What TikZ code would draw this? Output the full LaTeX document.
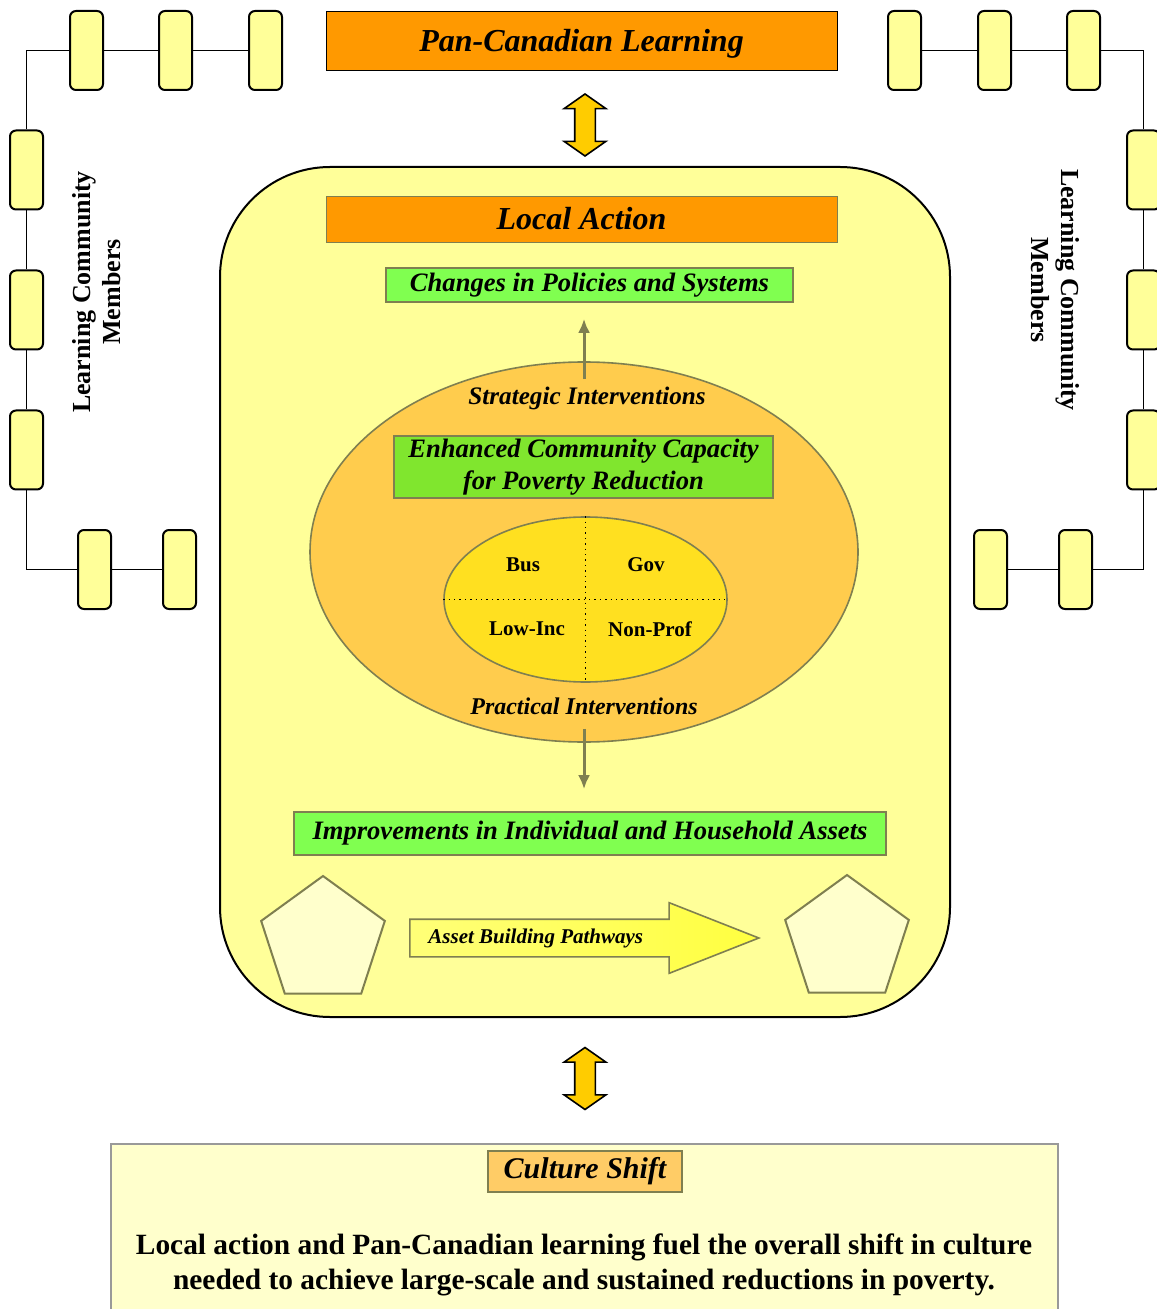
\documentclass[tikz,border=0pt]{standalone}
\usepackage{fontspec}
\setmainfont{Liberation Serif}
\usetikzlibrary{shapes.geometric,shapes.arrows,arrows.meta}
\definecolor{memberfill}{HTML}{FFFF99}
\definecolor{panorange}{HTML}{FF9900}
\definecolor{policygreen}{HTML}{80FF50}
\definecolor{capgreen}{HTML}{80E62E}
\definecolor{outerfill}{HTML}{FFCC4D}
\definecolor{innerfill}{HTML}{FFE020}
\definecolor{olivedraw}{HTML}{7F7F50}
\definecolor{arrowgold}{HTML}{FFCC00}
\definecolor{palefill}{HTML}{FFFFCC}
\definecolor{pathyellow}{HTML}{FFFF40}
\definecolor{pathpale}{HTML}{FFFF78}
\definecolor{shiftfill}{HTML}{FFCC66}
\begin{document}
\begin{tikzpicture}[x=0.5pt,y=-0.5pt,
  member/.style={draw,line width=1pt,fill=memberfill,rounded corners=3pt,minimum width=16.5pt,minimum height=39.5pt,inner sep=0pt},
  chain/.style={line width=0.8pt},
  title/.style={draw,fill=panorange,minimum width=255.5pt,inner sep=0pt,font=\fontsize{16}{19}\selectfont\bfseries\itshape},
  goal/.style={draw=olivedraw,line width=0.8pt,fill=policygreen,inner sep=0pt,font=\fontsize{13.3}{16}\selectfont\bfseries\itshape},
  tag/.style={font=\fontsize{12}{14}\selectfont\bfseries\itshape},
  sector/.style={font=\fontsize{10.5}{12}\selectfont\bfseries},
  lcm/.style={align=center,font=\fontsize{13}{15}\selectfont\bfseries},
  link/.style={draw=black,line width=0.8pt,fill=arrowgold,double arrow,double arrow tip angle=110,double arrow head extend=5.25pt,minimum width=20pt,minimum height=31pt,inner xsep=0pt,inner ysep=4.75pt,rotate=90},
  flow/.style={line width=1.5pt,draw=olivedraw,-{Latex[length=7pt,width=6pt]}},
  asset/.style={regular polygon,regular polygon sides=5,minimum size=65pt,draw=olivedraw,line width=1pt,fill=palefill,inner sep=0pt}
]
\useasboundingbox (0,0) rectangle (1156,1309);

% learning community members, left
\node [member] (tl1) at (86.5,50.5) {};
\node [member] (tl2) at (175.5,50.5) {};
\node [member] (tl3) at (265.5,50.5) {};
\node [member] (ml1) at (26.5,170) {};
\node [member] (ml2) at (26.5,310) {};
\node [member] (ml3) at (26.5,450) {};
\node [member] (bl1) at (94.5,569.5) {};
\node [member] (bl2) at (179.5,569.5) {};
\draw [chain] (tl3) -- (tl2) -- (tl1);
\draw [chain] (tl1.west) -| (ml1.north);
\draw [chain] (ml1) -- (ml2) -- (ml3);
\draw [chain] (ml3.south) |- (bl1.west);
\draw [chain] (bl1) -- (bl2);
\node [lcm,rotate=90] (lcmleft) at (97,292) {Learning Community\\Members};

% learning community members, right
\node [member] (tr1) at (904.5,50.5) {};
\node [member] (tr2) at (994.5,50.5) {};
\node [member] (tr3) at (1083.5,50.5) {};
\node [member] (mr1) at (1143.5,170) {};
\node [member] (mr2) at (1143.5,310) {};
\node [member] (mr3) at (1143.5,450) {};
\node [member] (br1) at (990.5,569.5) {};
\node [member] (br2) at (1075.5,569.5) {};
\draw [chain] (tr1) -- (tr2) -- (tr3);
\draw [chain] (tr3.east) -| (mr1.north);
\draw [chain] (mr1) -- (mr2) -- (mr3);
\draw [chain] (mr3.south) |- (br2.east);
\draw [chain] (br2) -- (br1);
\node [lcm,rotate=-90] (lcmright) at (1055,290) {Learning Community\\Members};

\node [title,minimum height=29.5pt,text height=15pt,text depth=3.5pt] (pan) at (581.5,40.5) {Pan-Canadian Learning};
\node [link] (panlink) at (585,125) {};

% local action
\node [draw,line width=1pt,fill=memberfill,rounded corners=55pt,minimum width=365pt,minimum height=425pt] (local) at (585,592) {};
\node [title,draw=olivedraw,minimum height=23pt] (action) at (581.5,219) {Local Action};
\node [goal,minimum width=203.5pt,minimum height=17pt] (policy) at (589.5,285) {Changes in Policies and Systems};
\node [ellipse,draw=olivedraw,line width=0.8pt,fill=outerfill,minimum width=274pt,minimum height=190pt] (outer) at (584,552) {};
\node [tag,font=\fontsize{12.6}{14}\selectfont\bfseries\itshape] (strategic) at (587,398) {Strategic Interventions};
\node [goal,fill=capgreen,minimum width=189.5pt,minimum height=31pt,align=center,font=\fontsize{13.3}{16}\selectfont\bfseries\itshape] (capacity) at (583.5,467) {Enhanced Community Capacity\\for Poverty Reduction};
\node [ellipse,draw=olivedraw,line width=0.8pt,fill=innerfill,minimum width=141.5pt,minimum height=82.5pt] (inner) at (585.5,599.5) {};
\draw [dotted,line width=0.7pt] (inner.north) -- (inner.south);
\draw [dotted,line width=0.7pt] (inner.west) -- (inner.east);
\node [sector] (bus) at (523,565) {Bus};
\node [sector] (gov) at (646,565) {Gov};
\node [sector] (lowinc) at (527,629) {Low-Inc};
\node [sector] (nonprof) at (650,629) {Non-Prof};
\node [tag] (practical) at (584,706) {Practical Interventions};
\draw [flow] ([yshift=-9pt]outer.north) -- ([yshift=-8pt]outer.north |- policy.south);
\node [goal,minimum width=296pt,minimum height=21.5pt] (household) at (590,833.5) {Improvements in Individual and Household Assets};
\draw [flow] ([yshift=7pt]outer.south) -- ([yshift=11pt]outer.south |- household.north);

% asset building
\node [asset] (assetfrom) at (323,941) {};
\node [asset] (assetto) at (847,940) {};
\node [single arrow,draw=olivedraw,line width=0.8pt,left color=pathpale,right color=pathyellow,single arrow tip angle=43,single arrow head extend=8.25pt,minimum width=34.5pt,minimum height=174.5pt,inner xsep=0pt,inner ysep=9pt,anchor=tail] (pathway) at (409,938) {};
\node [anchor=west,inner sep=0pt,font=\fontsize{10.5}{12}\selectfont\bfseries\itshape] (pathwaytext) at (428,938) {Asset Building Pathways};

\node [link] (locallink) at (585,1078.5) {};

% culture shift
\node [draw=gray!80,line width=0.8pt,fill=palefill,minimum width=473.5pt,minimum height=90pt,anchor=north west,inner sep=0pt] (culture) at (110,1143) {};
\node [draw=olivedraw,line width=0.8pt,fill=shiftfill,minimum width=97pt,minimum height=20.5pt,inner sep=0pt,font=\fontsize{15}{18}\selectfont\bfseries\itshape] (shift) at (585,1171.5) {Culture Shift};
\node [align=center,font=\fontsize{14.7}{17.5}\selectfont\bfseries] (summary) at (584,1265) {Local action and Pan-Canadian learning fuel the overall shift in culture\\needed to achieve large-scale and sustained reductions in poverty.};
\end{tikzpicture}
\end{document}
